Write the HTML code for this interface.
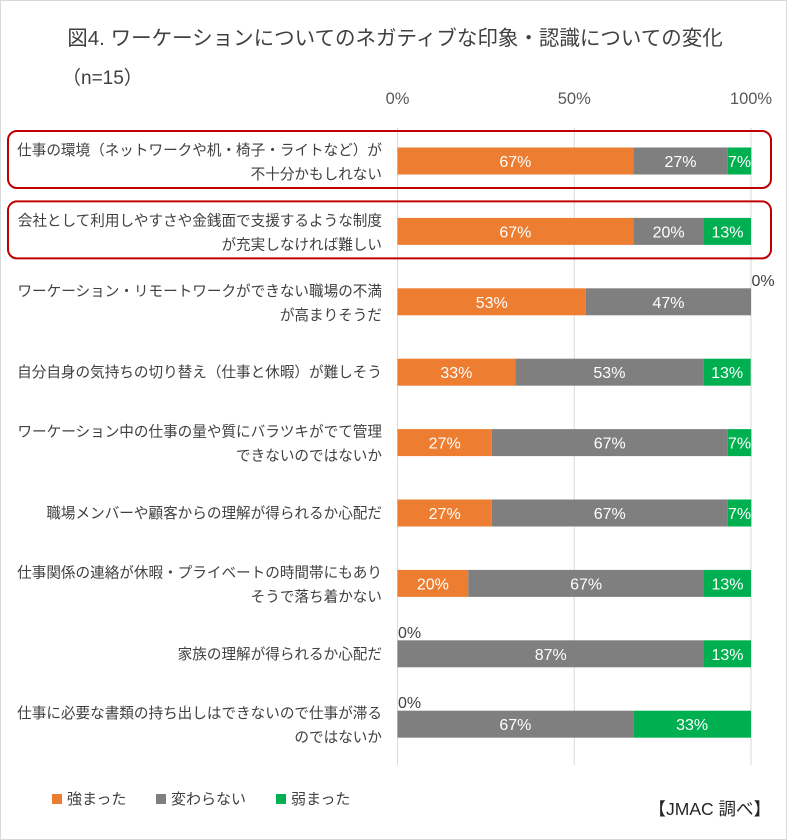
<!DOCTYPE html>
<html><head><meta charset="utf-8"><style>
body{margin:0;background:#fff}
#wrap{position:relative;width:787px;height:840px;overflow:hidden;font-family:"Liberation Sans","Noto Sans CJK JP",sans-serif;color:#404040}
</style></head><body>
<div id="wrap">
<svg id="chart" width="787" height="840" style="position:absolute;left:0;top:0">
<rect x="0.5" y="0.5" width="786" height="839" fill="#fff" stroke="#d9d9d9"/>
</svg>
</div>
<script>
const categories=[
["仕事の環境（ネットワークや机・椅子・ライトなど）が","不十分かもしれない"],
["会社として利用しやすさや金銭面で支援するような制度","が充実しなければ難しい"],
["ワーケーション・リモートワークができない職場の不満","が高まりそうだ"],
["自分自身の気持ちの切り替え（仕事と休暇）が難しそう"],
["ワーケーション中の仕事の量や質にバラツキがでて管理","できないのではないか"],
["職場メンバーや顧客からの理解が得られるか心配だ"],
["仕事関係の連絡が休暇・プライベートの時間帯にもあり","そうで落ち着かない"],
["家族の理解が得られるか心配だ"],
["仕事に必要な書類の持ち出しはできないので仕事が滞る","のではないか"]];
const stronger=[66.7,66.7,53.3,33.3,26.7,26.7,20,0,0];
const unchanged=[26.7,20,46.7,53.3,66.7,66.7,66.7,86.7,66.7];
const weaker=[6.7,13.3,0,13.3,6.7,6.7,13.3,13.3,33.3];
const ticks=[0,50,100];
const seriesNames=["強まった","変わらない","弱まった"];
const colors=["#ED7D31","#7F7F7F","#00B050"];
const NS="http://www.w3.org/2000/svg";
const svg=document.getElementById('chart');
const x0=397.5,x1=751;
function xs(v){return x0+(x1-x0)*v/100;}
function yc(i){return 161+i*70.4;}
const barH=27;
function mk(tag,attrs,text){const e=document.createElementNS(NS,tag);for(const k in attrs)e.setAttribute(k,attrs[k]);if(text!==undefined)e.textContent=text;svg.appendChild(e);return e;}
let t=mk('text',{x:395,y:45,'text-anchor':'middle','font-size':20.5,fill:'#404040'},'図4. ワーケーションについてのネガティブな印象・認識についての変化');


t=mk('text',{x:62,y:84,'font-size':19,fill:'#404040'},'（n=15）');


ticks.forEach(v=>{
 const g=mk('line',{x1:xs(v),x2:xs(v),y1:128,y2:765,stroke:'#d9d9d9','stroke-width':1});
 
 
 const l=mk('text',{x:xs(v),y:104,'text-anchor':'middle','font-size':16.5,fill:'#595959'},v+'%');
 
 
});
[0,1].forEach(i=>{
 const r=mk('rect',{x:8,y:yc(i)-30,width:763,height:57,rx:9,fill:'none',stroke:'#C00000','stroke-width':2});
 
 
});
const series=[stronger,unchanged,weaker];
categories.forEach((lines,i)=>{
 const c=yc(i);
 lines.forEach((ln,j)=>{
  const dy=lines.length===1?c+5:c-11+j*24+5;
  const e=mk('text',{x:382,y:dy,'text-anchor':'end','font-size':14.6,fill:'#404040'},ln);
  
  
 });
 let acc=0;
 series.forEach((s,k)=>{
  const v=s[i];
  if(v>0){
   const b=mk('rect',{x:xs(acc),y:c-barH/2,width:xs(acc+v)-xs(acc),height:barH,fill:colors[k]});
   
   
   const lb=mk('text',{x:(xs(acc)+xs(acc+v))/2,y:c+6,'text-anchor':'middle','font-size':16,fill:'#fff'},Math.round(v)+'%');
   
   
  } else {
   const lb=mk('text',{x:acc===0?xs(0)+12:xs(100)+12,y:c-16,'text-anchor':'middle','font-size':16,fill:'#404040'},'0%');
   
   
  }
  acc+=v;
 });
});
const lx=[52,156,276];
seriesNames.forEach((n,k)=>{
 const s=mk('rect',{x:lx[k],y:794,width:10,height:10,fill:colors[k]});
 
 
 const tx=mk('text',{x:lx[k]+15,y:804,'font-size':15,fill:'#404040'},n);
 
 
});
t=mk('text',{x:771,y:815,'text-anchor':'end','font-size':17.5,fill:'#262626'},'【JMAC 調べ】');


</script>
</body></html>
